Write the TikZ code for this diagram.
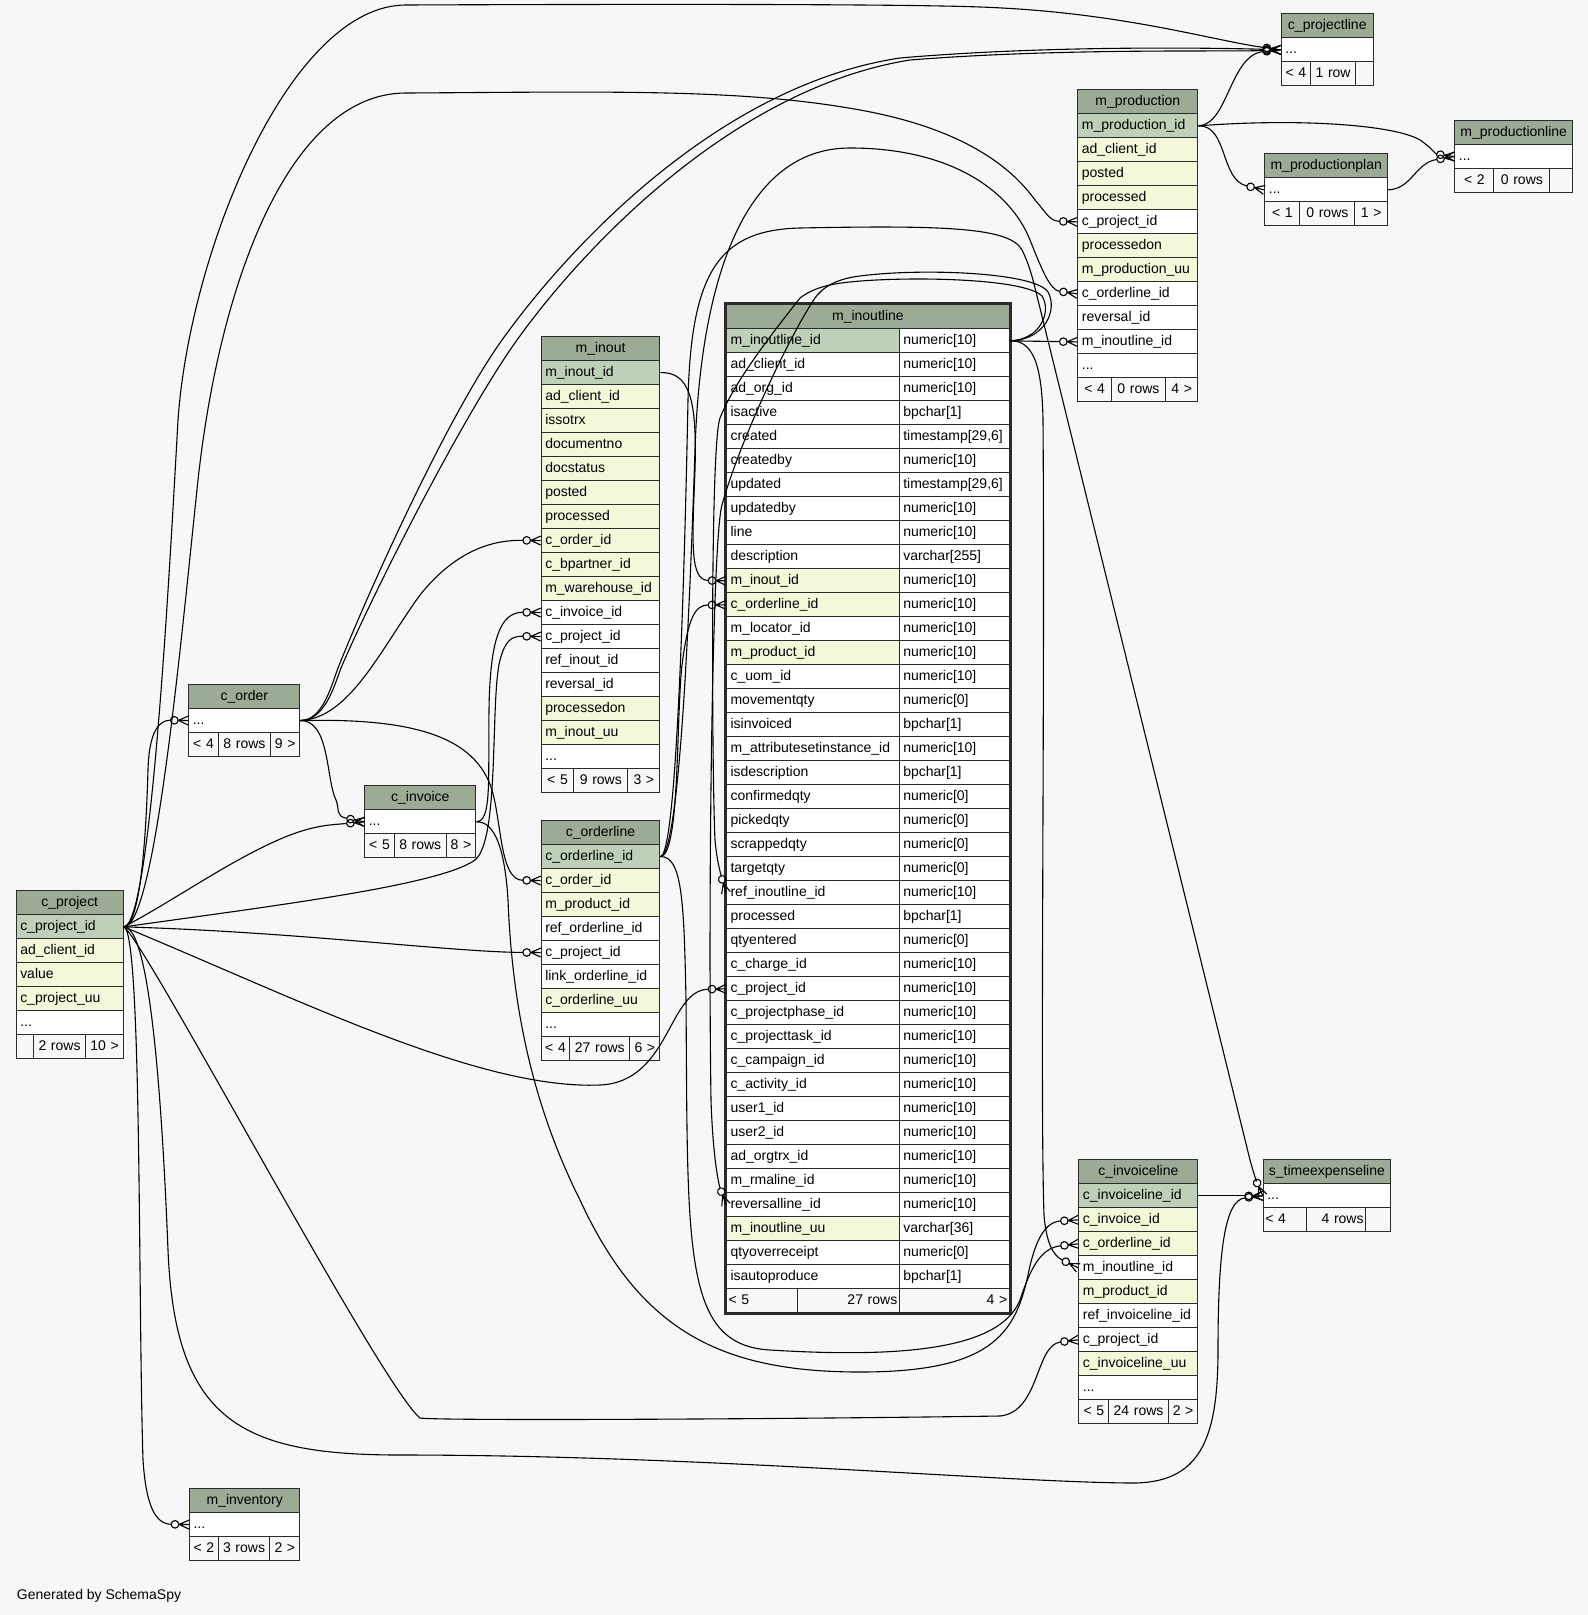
\documentclass[tikz,border=0pt]{standalone}
\usepackage{fontspec}
\setmainfont{Liberation Sans}
\usetikzlibrary{arrows.meta}
\definecolor{bgc}{HTML}{F7F7F7}
\definecolor{hdrc}{HTML}{9BAB96}
\definecolor{pkc}{HTML}{BED1B8}
\definecolor{idxc}{HTML}{F4F7DA}
\definecolor{linec}{HTML}{2B2B2B}
\pgfdeclarearrow{
  name = CrowO,
  setup code = {
    \pgfarrowssettipend{0pt}
    \pgfarrowssetlineend{-17.8bp}
    \pgfarrowssetbackend{-18.5bp}
    \pgfarrowsupperhullpoint{0pt}{4.5bp}
    \pgfarrowsupperhullpoint{-18.5bp}{4.5bp}
  },
  drawing code = {
    \pgfsetroundjoin
    \pgfsetbuttcap
    \pgfpathmoveto{\pgfqpoint{0pt}{4.5bp}}
    \pgfpathlineto{\pgfqpoint{-10bp}{0pt}}
    \pgfpathlineto{\pgfqpoint{0pt}{-4.5bp}}
    \pgfpathmoveto{\pgfqpoint{-10bp}{0pt}}
    \pgfpathlineto{\pgfqpoint{0pt}{0pt}}
    \pgfusepathqstroke
    \pgfpathcircle{\pgfqpoint{-14bp}{0pt}}{3.8bp}
    \pgfusepathqstroke
  }
}
\newcommand\rw[6]{\pgfmathsetmacro\mytw{#4-8}\node[cell,fill=#5,minimum width=#4bp,text width=\mytw bp] (#1) at (#2,#3) {#6};}
\newcommand\hd[5]{\pgfmathsetmacro\mytw{#4-8}\node[cell,fill=hdrc,minimum width=#4bp,text width=\mytw bp,align=center] (#1) at (#2,#3) {#5};}
\newcommand\ft[6]{\pgfmathsetmacro\mytw{#4-4}\node[cell,fill=bgc,inner xsep=2bp,minimum width=#4bp,text width=\mytw bp,align=#5] (#1) at (#2,#3) {#6};}
\newcommand\milrow[4]{\pgfmathsetmacro\myy{328.3+(#1-1)*24}\rw{mil-#1}{726}{\myy}{172.7}{#4}{#2}\rw{mil-#1t}{898.7}{\myy}{110}{white}{#3}}
\tikzset{
  cell/.style={draw=linec, line width=1.1bp, anchor=north west, minimum height=24bp, inner xsep=4bp, inner ysep=0pt, align=left, text height=10.3bp, text depth=3bp, font=\fontsize{14.05}{16}\selectfont},
  fk/.style={draw=black, line width=1.1bp},
  crowfoot/.style={-{CrowO[]}}
}
\begin{document}
\begin{tikzpicture}[x=1bp,y=-1bp]
\fill[bgc] (0,0) rectangle (1588,1615);
\useasboundingbox (0,0) rectangle (1588,1615);

% c_project
\hd{cp-h}{15.7}{890}{107}{c\_project}
\rw{cp-1}{15.7}{914.3}{107}{pkc}{c\_project\_id}
\rw{cp-2}{15.7}{938.3}{107}{idxc}{ad\_client\_id}
\rw{cp-3}{15.7}{962.3}{107}{idxc}{value}
\rw{cp-4}{15.7}{986.3}{107}{idxc}{c\_project\_uu}
\rw{cp-5}{15.7}{1010.3}{107}{white}{...}
\ft{cp-f1}{15.7}{1034.3}{17}{center}{}
\ft{cp-f2}{32.7}{1034.3}{52.6}{center}{2 rows}
\ft{cp-f3}{85.3}{1034.3}{37.4}{center}{10 >}

% c_order
\hd{co-h}{188.3}{684}{111}{c\_order}
\rw{co-d}{188.3}{708}{111}{white}{...}
\ft{co-f1}{188.3}{732}{29.4}{center}{< 4}
\ft{co-f2}{217.7}{732}{52.3}{center}{8 rows}
\ft{co-f3}{270}{732}{29.3}{center}{9 >}

% c_invoice
\hd{ci-h}{364.3}{785.3}{111}{c\_invoice}
\rw{ci-d}{364.3}{809.3}{111}{white}{...}
\ft{ci-f1}{364.3}{833.3}{29.4}{center}{< 5}
\ft{ci-f2}{393.7}{833.3}{52}{center}{8 rows}
\ft{ci-f3}{445.7}{833.3}{29.6}{center}{8 >}

% m_inout
\hd{mio-h}{540.7}{336}{118.6}{m\_inout}
\rw{mio-1}{540.7}{360}{118.6}{pkc}{m\_inout\_id}
\rw{mio-2}{540.7}{384}{118.6}{idxc}{ad\_client\_id}
\rw{mio-3}{540.7}{408}{118.6}{idxc}{issotrx}
\rw{mio-4}{540.7}{432}{118.6}{idxc}{documentno}
\rw{mio-5}{540.7}{456}{118.6}{idxc}{docstatus}
\rw{mio-6}{540.7}{480}{118.6}{idxc}{posted}
\rw{mio-7}{540.7}{504}{118.6}{idxc}{processed}
\rw{mio-8}{540.7}{528}{118.6}{idxc}{c\_order\_id}
\rw{mio-9}{540.7}{552}{118.6}{idxc}{c\_bpartner\_id}
\rw{mio-10}{540.7}{576}{118.6}{idxc}{m\_warehouse\_id}
\rw{mio-11}{540.7}{600}{118.6}{white}{c\_invoice\_id}
\rw{mio-12}{540.7}{624}{118.6}{white}{c\_project\_id}
\rw{mio-13}{540.7}{648}{118.6}{white}{ref\_inout\_id}
\rw{mio-14}{540.7}{672}{118.6}{white}{reversal\_id}
\rw{mio-15}{540.7}{696}{118.6}{idxc}{processedon}
\rw{mio-16}{540.7}{720}{118.6}{idxc}{m\_inout\_uu}
\rw{mio-17}{540.7}{744}{118.6}{white}{...}
\ft{mio-f1}{540.7}{768}{32.6}{center}{< 5}
\ft{mio-f2}{573.3}{768}{54}{center}{9 rows}
\ft{mio-f3}{627.3}{768}{32}{center}{3 >}

% c_orderline
\hd{col-h}{540.7}{820}{118.6}{c\_orderline}
\rw{col-1}{540.7}{844}{118.6}{pkc}{c\_orderline\_id}
\rw{col-2}{540.7}{868}{118.6}{idxc}{c\_order\_id}
\rw{col-3}{540.7}{892}{118.6}{idxc}{m\_product\_id}
\rw{col-4}{540.7}{916}{118.6}{white}{ref\_orderline\_id}
\rw{col-5}{540.7}{940}{118.6}{white}{c\_project\_id}
\rw{col-6}{540.7}{964}{118.6}{white}{link\_orderline\_id}
\rw{col-7}{540.7}{988}{118.6}{idxc}{c\_orderline\_uu}
\rw{col-8}{540.7}{1012}{118.6}{white}{...}
\ft{col-f1}{540.7}{1036}{28.6}{center}{< 4}
\ft{col-f2}{569.3}{1036}{60}{center}{27 rows}
\ft{col-f3}{629.3}{1036}{30}{center}{6 >}

% m_inoutline
\hd{mil-h}{726}{304.3}{282.7}{m\_inoutline}
\milrow{1}{m\_inoutline\_id}{numeric[10]}{pkc}
\milrow{2}{ad\_client\_id}{numeric[10]}{white}
\milrow{3}{ad\_org\_id}{numeric[10]}{white}
\milrow{4}{isactive}{bpchar[1]}{white}
\milrow{5}{created}{timestamp[29,6]}{white}
\milrow{6}{createdby}{numeric[10]}{white}
\milrow{7}{updated}{timestamp[29,6]}{white}
\milrow{8}{updatedby}{numeric[10]}{white}
\milrow{9}{line}{numeric[10]}{white}
\milrow{10}{description}{varchar[255]}{white}
\milrow{11}{m\_inout\_id}{numeric[10]}{idxc}
\milrow{12}{c\_orderline\_id}{numeric[10]}{idxc}
\milrow{13}{m\_locator\_id}{numeric[10]}{white}
\milrow{14}{m\_product\_id}{numeric[10]}{idxc}
\milrow{15}{c\_uom\_id}{numeric[10]}{white}
\milrow{16}{movementqty}{numeric[0]}{white}
\milrow{17}{isinvoiced}{bpchar[1]}{white}
\milrow{18}{m\_attributesetinstance\_id}{numeric[10]}{white}
\milrow{19}{isdescription}{bpchar[1]}{white}
\milrow{20}{confirmedqty}{numeric[0]}{white}
\milrow{21}{pickedqty}{numeric[0]}{white}
\milrow{22}{scrappedqty}{numeric[0]}{white}
\milrow{23}{targetqty}{numeric[0]}{white}
\milrow{24}{ref\_inoutline\_id}{numeric[10]}{white}
\milrow{25}{processed}{bpchar[1]}{white}
\milrow{26}{qtyentered}{numeric[0]}{white}
\milrow{27}{c\_charge\_id}{numeric[10]}{white}
\milrow{28}{c\_project\_id}{numeric[10]}{white}
\milrow{29}{c\_projectphase\_id}{numeric[10]}{white}
\milrow{30}{c\_projecttask\_id}{numeric[10]}{white}
\milrow{31}{c\_campaign\_id}{numeric[10]}{white}
\milrow{32}{c\_activity\_id}{numeric[10]}{white}
\milrow{33}{user1\_id}{numeric[10]}{white}
\milrow{34}{user2\_id}{numeric[10]}{white}
\milrow{35}{ad\_orgtrx\_id}{numeric[10]}{white}
\milrow{36}{m\_rmaline\_id}{numeric[10]}{white}
\milrow{37}{reversalline\_id}{numeric[10]}{white}
\milrow{38}{m\_inoutline\_uu}{varchar[36]}{idxc}
\milrow{39}{qtyoverreceipt}{numeric[0]}{white}
\milrow{40}{isautoproduce}{bpchar[1]}{white}
\ft{mil-f1}{726}{1288.3}{71.3}{left}{< 5}
\ft{mil-f2}{797.3}{1288.3}{101.4}{right}{27 rows}
\ft{mil-f3}{898.7}{1288.3}{110}{right}{4 >}
\draw[linec, line width=3bp] (725,303) rectangle (1010.2,1313.7);

% m_production
\hd{mp-h}{1077.3}{89.3}{120}{m\_production}
\rw{mp-1}{1077.3}{113.3}{120}{pkc}{m\_production\_id}
\rw{mp-2}{1077.3}{137.3}{120}{idxc}{ad\_client\_id}
\rw{mp-3}{1077.3}{161.3}{120}{idxc}{posted}
\rw{mp-4}{1077.3}{185.3}{120}{idxc}{processed}
\rw{mp-5}{1077.3}{209.3}{120}{white}{c\_project\_id}
\rw{mp-6}{1077.3}{233.3}{120}{idxc}{processedon}
\rw{mp-7}{1077.3}{257.3}{120}{idxc}{m\_production\_uu}
\rw{mp-8}{1077.3}{281.3}{120}{white}{c\_orderline\_id}
\rw{mp-9}{1077.3}{305.3}{120}{white}{reversal\_id}
\rw{mp-10}{1077.3}{329.3}{120}{white}{m\_inoutline\_id}
\rw{mp-11}{1077.3}{353.3}{120}{white}{...}
\ft{mp-f1}{1077.3}{377.3}{33.4}{center}{< 4}
\ft{mp-f2}{1110.7}{377.3}{54.3}{center}{0 rows}
\ft{mp-f3}{1165}{377.3}{32.3}{center}{4 >}

% c_projectline
\hd{cpl-h}{1280.7}{13.3}{92}{c\_projectline}
\rw{cpl-d}{1280.7}{37.3}{92}{white}{...}
\ft{cpl-f1}{1280.7}{61.3}{29.3}{center}{< 4}
\ft{cpl-f2}{1310}{61.3}{45}{center}{1 row}
\ft{cpl-f3}{1355}{61.3}{17.7}{center}{}

% m_productionplan
\hd{mpp-h}{1264.3}{153.3}{122.7}{m\_productionplan}
\rw{mpp-d}{1264.3}{177.3}{122.7}{white}{...}
\ft{mpp-f1}{1264.3}{201.3}{35}{center}{< 1}
\ft{mpp-f2}{1299.3}{201.3}{55}{center}{0 rows}
\ft{mpp-f3}{1354.3}{201.3}{32.7}{center}{1 >}

% m_productionline
\hd{mpl-h}{1454.3}{120}{117.7}{m\_productionline}
\rw{mpl-d}{1454.3}{144}{117.7}{white}{...}
\ft{mpl-f1}{1454.3}{168}{39}{center}{< 2}
\ft{mpl-f2}{1493.3}{168}{56}{center}{0 rows}
\ft{mpl-f3}{1549.3}{168}{22.7}{center}{}

% c_invoiceline
\hd{cil-h}{1078.3}{1159.3}{119}{c\_invoiceline}
\rw{cil-1}{1078.3}{1183.3}{119}{pkc}{c\_invoiceline\_id}
\rw{cil-2}{1078.3}{1207.3}{119}{idxc}{c\_invoice\_id}
\rw{cil-3}{1078.3}{1231.3}{119}{idxc}{c\_orderline\_id}
\rw{cil-4}{1078.3}{1255.3}{119}{white}{m\_inoutline\_id}
\rw{cil-5}{1078.3}{1279.3}{119}{idxc}{m\_product\_id}
\rw{cil-6}{1078.3}{1303.3}{119}{white}{ref\_invoiceline\_id}
\rw{cil-7}{1078.3}{1327.3}{119}{white}{c\_project\_id}
\rw{cil-8}{1078.3}{1351.3}{119}{idxc}{c\_invoiceline\_uu}
\rw{cil-9}{1078.3}{1375.3}{119}{white}{...}
\ft{cil-f1}{1078.3}{1399.3}{30}{center}{< 5}
\ft{cil-f2}{1108.3}{1399.3}{59.4}{center}{24 rows}
\ft{cil-f3}{1167.7}{1399.3}{29.6}{center}{2 >}

% s_timeexpenseline
\hd{ste-h}{1262.7}{1159.3}{127.3}{s\_timeexpenseline}
\rw{ste-d}{1262.7}{1183.3}{127.3}{white}{...}
\ft{ste-f1}{1262.7}{1207.3}{43}{left}{< 4}
\ft{ste-f2}{1305.7}{1207.3}{59.3}{right}{4 rows}
\ft{ste-f3}{1365}{1207.3}{25}{center}{}

% m_inventory
\hd{minv-h}{189}{1488}{110.3}{m\_inventory}
\rw{minv-d}{189}{1512}{110.3}{white}{...}
\ft{minv-f1}{189}{1536}{28.7}{center}{< 2}
\ft{minv-f2}{217.7}{1536}{51.6}{center}{3 rows}
\ft{minv-f3}{269.3}{1536}{30}{center}{2 >}

\node[anchor=base west, inner sep=0pt, font=\fontsize{14.05}{16}\selectfont] (gen) at (16.7,1599) {Generated by SchemaSpy};

% ---- connectors ----
% c_project -> c_order
\draw[fk,crowfoot] (cp-1.east) .. controls (140,926) and (146,840) .. (148,770) .. controls (149,730) and (160,720) .. (co-d.west);
% c_project -> c_projectline
\draw[fk,crowfoot] (cp-1.east) .. controls (150,926) and (168,600) .. (178,420) .. controls (190,250) and (290,5) .. (406,5) .. controls (650,4) and (900,4) .. (980,7) .. controls (1120,12) and (1210,40) .. (cpl-d.west);
% c_project -> m_production.c_project_id
\draw[fk,crowfoot] (cp-1.east) .. controls (155,926) and (180,650) .. (198,480) .. controls (220,280) and (290,93) .. (406,93) .. controls (600,92) and (740,88) .. (860,110) .. controls (960,128) and (1010,165) .. (1035,200) .. controls (1048,215) and (1050,221) .. (mp-5.west);
% c_order -> c_projectline (x2)
\draw[fk,crowfoot] (co-d.east) .. controls (322,720) and (330,690) .. (338,668) .. controls (365,600) and (445,420) .. (502,340) .. controls (570,245) and (720,85) .. (900,58) .. controls (1050,45) and (1220,48) .. (cpl-d.west);
\draw[fk,crowfoot] (co-d.east) .. controls (324,720) and (333,690) .. (341,668) .. controls (370,600) and (460,420) .. (517,340) .. controls (585,245) and (735,88) .. (910,60) .. controls (1060,48) and (1225,52) .. (cpl-d.west);
% c_order -> m_inout.c_order_id
\draw[fk,crowfoot] (co-d.east) .. controls (350,718) and (380,650) .. (420,595) .. controls (460,545) and (500,540) .. (mio-8.west);
% c_order -> c_invoice
\draw[fk,crowfoot] (co-d.east) .. controls (330,720) and (326,780) .. (336,800) .. controls (340,810) and (335,816) .. (ci-d.west);
% c_project -> c_invoice
\draw[fk,crowfoot] (cp-1.east) .. controls (175,900) and (230,860) .. (285,837) .. controls (315,825) and (330,825) .. (ci-d.west);
% c_project -> m_inout.c_project_id
\draw[fk,crowfoot] (cp-1.east) .. controls (280,905) and (440,885) .. (475,860) .. controls (500,840) and (490,700) .. (500,660) .. controls (505,642) and (510,636) .. (mio-12.west);
% c_invoice -> m_inout.c_invoice_id
\draw[fk,crowfoot] (ci-d.east) .. controls (492,821) and (488,780) .. (489,710) .. controls (490,640) and (500,612) .. (mio-11.west);
% c_order -> c_orderline.c_order_id
\draw[fk,crowfoot] (co-d.east) .. controls (410,718) and (475,735) .. (492,790) .. controls (502,825) and (500,880) .. (col-2.west);
% c_project -> c_orderline.c_project_id
\draw[fk,crowfoot] (cp-1.east) .. controls (300,932) and (450,952) .. (col-5.west);
% c_project -> m_inoutline.c_project_id
\draw[fk,crowfoot] (cp-1.east) .. controls (300,1000) and (480,1090) .. (600,1085) .. controls (670,1082) and (668,990) .. (mil-28.west);
% c_project -> c_invoiceline.c_project_id
\draw[fk,crowfoot] (cp-1.east) .. controls (145,940) and (380,1385) .. (420,1418) .. controls (440,1421) and (800,1419) .. (1000,1416) .. controls (1040,1412) and (1035,1345) .. (cil-7.west);
% c_project -> s_timeexpenseline
\draw[fk,crowfoot] (cp-1.east) .. controls (150,926) and (162,1100) .. (168,1250) .. controls (175,1420) and (240,1455) .. (400,1455) .. controls (700,1455) and (1000,1482) .. (1130,1483) .. controls (1200,1484) and (1218,1440) .. (1218,1350) .. controls (1218,1250) and (1225,1200) .. (ste-d.west);
% c_project -> m_inventory
\draw[fk,crowfoot] (cp-1.east) .. controls (142,930) and (138,1300) .. (143,1460) .. controls (146,1505) and (155,1524) .. (minv-d.west);
% c_invoice -> c_invoiceline.c_invoice_id
\draw[fk,crowfoot] (ci-d.east) .. controls (495,821) and (505,850) .. (508,900) .. controls (512,1000) and (530,1100) .. (580,1200) .. controls (640,1330) and (720,1372) .. (860,1372) .. controls (990,1372) and (1015,1335) .. (1028,1275) .. controls (1035,1240) and (1045,1222) .. (cil-2.west);
% c_orderline -> c_invoiceline.c_orderline_id
\draw[fk,crowfoot] (col-1.east) .. controls (682,856) and (684,900) .. (686,1000) .. controls (688,1250) and (682,1345) .. (770,1350) .. controls (900,1358) and (1000,1350) .. (1020,1300) .. controls (1030,1270) and (1040,1248) .. (cil-3.west);
% c_orderline -> m_inoutline.c_orderline_id
\draw[fk,crowfoot] (col-1.east) .. controls (680,856) and (676,720) .. (682,665) .. controls (688,618) and (695,605) .. (mil-12.west);
% m_inout -> m_inoutline.m_inout_id
\draw[fk,crowfoot] (mio-1.east) .. controls (690,372) and (697,400) .. (695,470) .. controls (692,545) and (690,580) .. (mil-11.west);
% c_orderline -> m_production.c_orderline_id
\draw[fk,crowfoot] (col-1.east) .. controls (680,856) and (690,600) .. (695,450) .. controls (700,290) and (740,148) .. (850,148) .. controls (950,148) and (1010,190) .. (1030,240) .. controls (1042,270) and (1050,290) .. (mp-8.west);
% c_orderline -> s_timeexpenseline
\draw[fk,crowfoot] (col-1.east) .. controls (676,856) and (684,600) .. (688,400) .. controls (691,270) and (720,230) .. (800,228) .. controls (950,225) and (1010,228) .. (1022,250) .. controls (1028,262) and (1032,275) .. (1036,292) -- (1250,1160) .. controls (1254,1175) and (1258,1185) .. (ste-d.west);
% m_inoutline self references
\draw[fk,crowfoot] (mil-1t.east) .. controls (1040,340) and (1052,312) .. (1042,296) .. controls (1022,276) and (880,276) .. (835,284) .. controls (818,287) and (808,292) .. (800,298) .. controls (775,330) and (735,380) .. (720,418) .. controls (710,445) and (712,780) .. (715,840) .. controls (717,862) and (721,875) .. (mil-24.west);
\draw[fk,crowfoot] (mil-1t.east) .. controls (1045,340) and (1058,310) .. (1048,292) .. controls (1035,272) and (920,268) .. (860,276) .. controls (835,279) and (822,288) .. (815,298) .. controls (790,335) and (740,440) .. (722,505) .. controls (712,540) and (708,900) .. (711,1100) .. controls (713,1160) and (719,1185) .. (mil-37.west);
% m_inoutline -> m_production.m_inoutline_id
\draw[fk,crowfoot] (mil-1t.east) -- (mp-10.west);
% m_inoutline -> c_invoiceline.m_inoutline_id
\draw[fk,crowfoot] (mil-1t.east) .. controls (1032,340) and (1042,362) .. (1043,420) .. controls (1045,700) and (1040,1100) .. (1044,1215) .. controls (1046,1240) and (1052,1255) .. (cil-4.west);
% m_production -> c_projectline
\draw[fk,crowfoot] (mp-1.east) .. controls (1228,125) and (1230,55) .. (cpl-d.west);
% m_production -> m_productionplan
\draw[fk,crowfoot] (mp-1.east) .. controls (1228,125) and (1220,180) .. (mpp-d.west);
% m_production -> m_productionline
\draw[fk,crowfoot] (mp-1.east) .. controls (1300,118) and (1395,125) .. (1420,140) .. controls (1432,148) and (1435,154) .. (mpl-d.west);
% m_productionplan -> m_productionline
\draw[fk,crowfoot] (mpp-d.east) .. controls (1412,189) and (1415,163) .. (mpl-d.west);
% c_invoiceline -> s_timeexpenseline
\draw[fk,crowfoot] (cil-1.east) -- (ste-d.west);
\end{tikzpicture}
\end{document}
